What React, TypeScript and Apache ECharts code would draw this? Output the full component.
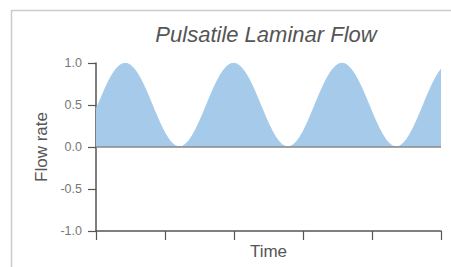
import React, { useEffect, useRef } from "react";
import * as echarts from "echarts";

const TIME_STEP = 0.05;
const flowRate: number[] = [
  0.45, 0.54, 0.637, 0.73, 0.813, 0.884, 0.939, 0.977, 0.996, 0.995,
  0.974, 0.935, 0.878, 0.806, 0.722, 0.629, 0.531, 0.431, 0.335, 0.245,
  0.165, 0.099, 0.048, 0.016, 0.001, 0.007, 0.036, 0.08, 0.142, 0.218,
  0.305, 0.399, 0.498, 0.597, 0.692, 0.78, 0.856, 0.918, 0.963, 0.99,
  0.999, 0.985, 0.953, 0.903, 0.837, 0.758, 0.668, 0.571, 0.472, 0.375,
  0.281, 0.197, 0.124, 0.067, 0.027, 0.003, 0.002, 0.022, 0.058, 0.113,
  0.183, 0.266, 0.358, 0.457, 0.557, 0.654, 0.744, 0.826, 0.894, 0.947,
  0.981, 0.999, 0.995, 0.969, 0.926, 0.866, 0.792, 0.707, 0.613, 0.514,
  0.415, 0.319, 0.231, 0.154, 0.09, 0.042, 0.012, 0.0, 0.01, 0.042,
  0.09, 0.154, 0.231, 0.32, 0.416, 0.515, 0.613, 0.707, 0.793, 0.867,
  0.927,
];
const xTicks: number[] = [0, 1, 2, 3, 4, 5];
const yTicks: number[] = [-1, -0.5, 0, 0.5, 1];

const TITLE = "Pulsatile Laminar Flow";
const X_NAME = "Time";
const Y_NAME = "Flow rate";

export default function App() {
  const ref = useRef<HTMLDivElement>(null);

  useEffect(() => {
    document.body.style.margin = "0";
    if (!ref.current) return;
    const chart = echarts.init(ref.current, undefined, { renderer: "svg" });
    const data = flowRate.map((v, i) => [Number((i * TIME_STEP).toFixed(2)), v]);
    const font = "'Liberation Sans', Arial, Helvetica, sans-serif";
    chart.setOption({
      animation: false,
      backgroundColor: "#ffffff",
      textStyle: { fontFamily: font },
      graphic: [
        {
          type: "rect",
          shape: { x: 11.5, y: 10.5, width: 480, height: 300 },
          style: { fill: "none", stroke: "#cccccc", lineWidth: 1.5 },
          silent: true,
          z: 0,
        },
        {
          type: "text",
          x: 266,
          y: 34,
          style: {
            text: TITLE,
            fontFamily: font,
            fontSize: 22,
            fontStyle: "italic",
            fill: "#555555",
            align: "center",
            verticalAlign: "middle",
          },
          z: 10,
        },
      ],
      grid: { left: 96, right: 10, top: 63, bottom: 36, containLabel: false },
      xAxis: {
        type: "value",
        min: xTicks[0],
        max: xTicks[xTicks.length - 1],
        interval: xTicks[1] - xTicks[0],
        name: X_NAME,
        nameLocation: "middle",
        nameGap: 12,
        nameTextStyle: { fontSize: 17, color: "#555555", fontFamily: font },
        axisLine: { show: true, onZero: false, lineStyle: { color: "#555555", width: 1.5 } },
        axisTick: { show: true, length: 9, lineStyle: { color: "#555555", width: 1.2 } },
        axisLabel: { show: false },
        splitLine: { show: false },
      },
      yAxis: {
        type: "value",
        min: yTicks[0],
        max: yTicks[yTicks.length - 1],
        interval: yTicks[1] - yTicks[0],
        name: Y_NAME,
        nameLocation: "middle",
        nameRotate: 90,
        nameGap: 44,
        nameTextStyle: { fontSize: 17, color: "#555555", fontFamily: font },
        axisLine: { show: true, lineStyle: { color: "#555555", width: 1.5 } },
        axisTick: { show: true, length: 8, lineStyle: { color: "#555555", width: 1.2 } },
        axisLabel: {
          margin: 14,
          fontSize: 12.5,
          color: "#777777",
          fontFamily: font,
          formatter: (v: number) => v.toFixed(1),
        },
        splitLine: { show: false },
      },
      series: [
        {
          type: "line",
          data,
          showSymbol: false,
          symbol: "none",
          lineStyle: { color: "#a6cbea", width: 1 },
          areaStyle: { color: "#a6cbea", opacity: 1 },
          markLine: {
            silent: true,
            symbol: "none",
            label: { show: false },
            lineStyle: { color: "#888888", width: 1.5, type: "solid" },
            data: [{ yAxis: 0 }],
          },
        },
      ],
    });
    return () => chart.dispose();
  }, []);

  return <div ref={ref} style={{ width: 451, height: 267 }} />;
}
